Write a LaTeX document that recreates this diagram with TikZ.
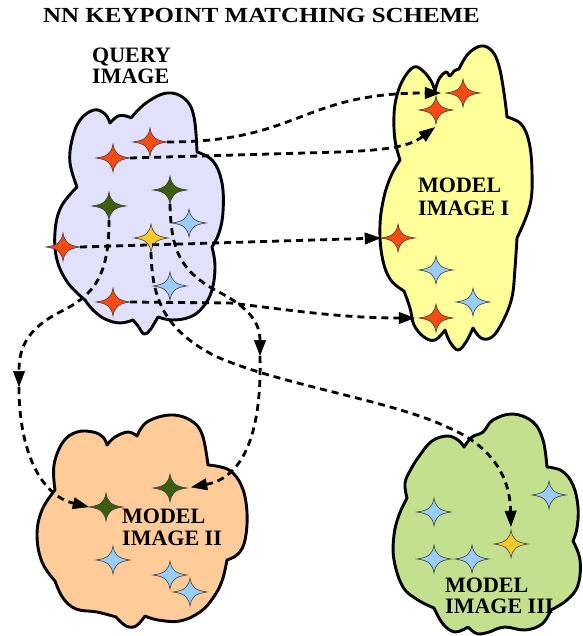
\documentclass[tikz,border=0pt]{standalone}
\usepackage{fontspec}
\usepackage{graphicx}
\setmainfont{Liberation Serif}
\usetikzlibrary{arrows.meta,calc}

\definecolor{queryfill}{HTML}{E1E1FB}
\definecolor{modelAfill}{HTML}{FFFF99}
\definecolor{modelBfill}{HTML}{FFCC99}
\definecolor{modelCfill}{HTML}{C2E08E}
\definecolor{kred}{HTML}{FF4A12}
\definecolor{kgreen}{HTML}{3B5E0B}
\definecolor{kblue}{HTML}{99CCFF}
\definecolor{kyellow}{HTML}{FFC928}

% four-pointed keypoint star: an invisible named box plus the star outline
\newcommand\kpstar[3]{%
  \node[kstarbox] (#1) at (#2) {};
  \filldraw[starline, fill=#3, shift={(#1.center)}]
    (17,0) .. controls (5,-1.6) and (1.6,-5) .. (0,-14)
    .. controls (-1.6,-5) and (-5,-1.6) .. (-17,0)
    .. controls (-5,1.6) and (-1.6,5) .. (0,14)
    .. controls (1.6,5) and (5,1.6) .. (17,0) -- cycle;}

\begin{document}
\begin{tikzpicture}[x=1pt, y=-1pt,
  cloudshape/.style={draw=black, line width=2.9pt, line join=round},
  bump/.style={smooth, tension=0.65},
  kstarbox/.style={rectangle, inner sep=0pt, minimum width=34pt, minimum height=28pt},
  starline/.style={draw=black!75, line width=0.6pt},
  lbl/.style={inner sep=0pt, anchor=base west, font=\fontsize{22}{22}\selectfont\bfseries},
  conn/.style={line width=2.8pt, dash pattern=on 7pt off 5pt,
    -{Triangle[length=16pt, width=12pt, line width=0.5pt]}},
]
\fill[white] (0,0) rectangle (582,636);
\useasboundingbox (0,0) rectangle (582,636);

% ---------- clouds ----------
% query image
\filldraw[cloudshape, fill=queryfill]
  plot[bump] coordinates {(77,187) (70,163) (72,140) (80,120) (94,110) (105,114) (110,123)}
  -- plot[bump] coordinates {(110,123) (118,116) (126,116) (131,118)}
  -- plot[bump] coordinates {(131,118) (146,103) (167,93) (185,99) (194,117) (197,152)}
  -- plot[bump] coordinates {(197,152) (213,161) (222,183) (223,212) (219,233) (212,247)}
  -- plot[bump] coordinates {(212,247) (215,266) (212,290) (203,307) (190,317) (172,320) (158,317)}
  -- plot[bump] coordinates {(158,317) (150,330) (144,334) (138,326) (133,320)}
  -- plot[bump] coordinates {(133,320) (120,323) (105,319) (93,310) (85,300)}
  -- plot[bump] coordinates {(85,300) (68,283) (57,260) (55,232) (61,207) (77,187)}
  -- cycle;

% model image I
\filldraw[cloudshape, fill=modelAfill]
  plot[bump] coordinates {(400,160) (395,140) (394,115) (397,95) (404,78) (414,67) (423,71) (431,81) (435,91)}
  -- plot[bump] coordinates {(435,91) (439,79) (446,72) (450,76) (454,71) (459,69)}
  -- plot[bump] coordinates {(459,69) (468,54) (481,46) (492,51) (499,66) (504,93) (507,117)}
  -- plot[bump] coordinates {(507,117) (521,124) (529,142) (532,172) (530,205) (517,238)}
  -- plot[bump] coordinates {(517,238) (515,268) (512,297) (503,321) (492,337) (481,338) (473,328)}
  -- plot[bump] coordinates {(473,328) (466,342) (458,350) (450,342) (445,330)}
  -- plot[bump] coordinates {(445,330) (435,340) (424,337) (414,325) (410,308) (404,291)}
  -- plot[bump] coordinates {(404,291) (390,279) (382,256) (380,225) (384,197) (391,176) (400,160)}
  -- cycle;

% model image II
\filldraw[cloudshape, fill=modelBfill]
  plot[bump] coordinates {(55,490) (54,465) (63,442) (77,432) (93,432) (103,437) (107,445)}
  -- plot[bump] coordinates {(107,445) (115,437) (128,432) (137,436)}
  -- plot[bump] coordinates {(137,436) (147,422) (170,415) (190,420) (202,434) (208,465)}
  -- plot[bump] coordinates {(208,465) (229,470) (242,487) (247,513) (245,540) (238,554) (227,560)}
  -- plot[bump] coordinates {(227,560) (222,581) (213,598) (200,612) (180,621) (158,620) (145,616)}
  -- plot[bump] coordinates {(145,616) (136,626) (126,626) (116,617)}
  -- plot[bump] coordinates {(116,617) (97,612) (76,609) (63,598) (55,581)}
  -- plot[bump] coordinates {(55,581) (42,562) (37,535) (42,510) (55,490)}
  -- cycle;

% model image III
\filldraw[cloudshape, fill=modelCfill]
  plot[bump] coordinates {(407,498) (405,483) (411,469) (420,455) (432,441) (447,436) (458,440) (464,447)}
  -- plot[bump] coordinates {(464,447) (472,437) (483,432) (493,420) (513,414) (533,422) (543,440) (547,467)}
  -- plot[bump] coordinates {(547,467) (562,471) (573,485) (578,507) (577,528) (573,541)}
  -- plot[bump] coordinates {(573,541) (580,560) (578,585) (567,600) (551,610)}
  -- plot[bump] coordinates {(551,610) (542,624) (525,630) (505,627) (492,631)}
  -- plot[bump] coordinates {(492,631) (478,634) (468,627)}
  -- plot[bump] coordinates {(468,627) (455,632) (443,624) (434,608)}
  -- plot[bump] coordinates {(434,608) (418,600) (403,587) (394,560) (394,535) (399,515) (407,498)}
  -- cycle;

% ---------- labels ----------
\node[lbl, font=\fontsize{21.5}{22}\selectfont\bfseries] (title) at (43,23)
  {\scalebox{1.16}[1]{NN KEYPOINT MATCHING SCHEME}};
\node[lbl] (qlabA) at (92,62.5) {QUERY};
\node[lbl] (qlabB) at (92,84) {IMAGE};
\node[lbl] (alabA) at (418,193) {MODEL};
\node[lbl] (alabB) at (418,215) {IMAGE I};
\node[lbl] (blabA) at (122,523) {MODEL};
\node[lbl] (blabB) at (122,545) {IMAGE II};
\node[lbl] (clabA) at (445,592) {MODEL};
\node[lbl] (clabB) at (445,613) {IMAGE III};

% ---------- keypoints ----------
% query image
\kpstar{q1}{150,142}{kred}
\kpstar{q2}{113,158}{kred}
\kpstar{q5}{170,190}{kgreen}
\kpstar{q6}{109,206}{kgreen}
\kpstar{qb1}{189,223}{kblue}
\kpstar{q7}{151,238}{kyellow}
\kpstar{q3}{63,247}{kred}
\kpstar{qb2}{170,286}{kblue}
\kpstar{q4}{113,302}{kred}
% model image I
\kpstar{a1}{463,93}{kred}
\kpstar{a2}{436,110}{kred}
\kpstar{a3}{398,238}{kred}
\kpstar{ab1}{436,270}{kblue}
\kpstar{ab2}{473,302}{kblue}
\kpstar{a4}{436,318}{kred}
% model image II
\kpstar{b6}{106,507}{kgreen}
\kpstar{b5}{170,488}{kgreen}
\kpstar{bb1}{113,560}{kblue}
\kpstar{bb2}{170,575}{kblue}
\kpstar{bb3}{190,592}{kblue}
% model image III
\kpstar{cb1}{434,512}{kblue}
\kpstar{cb2}{549,495}{kblue}
\kpstar{c7}{511,544}{kyellow}
\kpstar{cb3}{434,559}{kblue}
\kpstar{cb4}{472,559}{kblue}

% ---------- nearest-neighbour matches ----------
\coordinate (mid5) at (260,356);
\coordinate (mid6) at (19,387);

\draw[conn, shorten >=5pt] (q1.east) .. controls (300,142) and (300,93) .. (a1.west);
\draw[conn] (q2.east) -- (340,152) .. controls (390,150) and (410,146) .. ($(a2.south)+(-1,3)$);
\draw[conn] (q3.east) -- (a3.west);
\draw[conn, shorten >=4pt] (q4.east) -- (230,303) .. controls (290,310) and (340,318) .. (a4.west);

\draw[conn] (q5.south) .. controls (171,250) and (180,270) .. (215,290)
  .. controls (245,305) and (260,320) .. (mid5);
\draw[conn, shorten >=4pt] (mid5) .. controls (262,440) and (240,478) .. (b5.east);

\draw[conn] (q6.south) .. controls (109,275) and (95,295) .. (60,312)
  .. controls (25,330) and (19,350) .. (mid6);
\draw[conn] (mid6) .. controls (19,450) and (40,495) .. (b6.west);

\draw[conn, shorten >=3pt] (q7.south) .. controls (152,300) and (165,330) .. (215,356)
  .. controls (280,385) and (390,400) .. (447,427)
  .. controls (495,447) and (510,480) .. (c7.north);
\end{tikzpicture}
\end{document}
